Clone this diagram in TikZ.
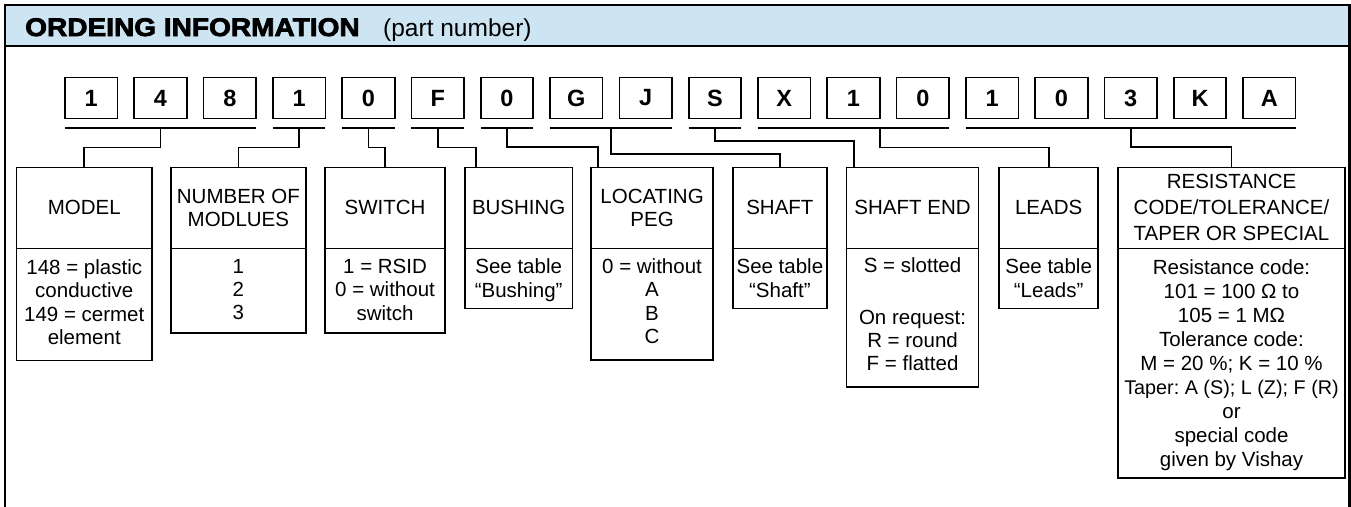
\documentclass[tikz,border=0pt]{standalone}
\usepackage{fontspec}
\setmainfont{Liberation Sans}
\newfontfamily\heavyfont[FakeBold=3,FakeStretch=1.1]{Liberation Sans Bold}
\usetikzlibrary{calc}
\definecolor{hdrblue}{RGB}{205,228,243}
\frenchspacing
\begin{document}
\begin{tikzpicture}[x=1pt,y=-1pt,
  digit/.style={draw, line width=1.7pt, outer sep=0pt, minimum width=52.5pt, minimum height=41pt, inner sep=0pt, font=\fontsize{23.5}{26}\selectfont\bfseries},
  headbox/.style={draw, line width=1.7pt, outer sep=0pt, minimum height=81pt, inner sep=0pt, align=center, font=\fontsize{20.5}{23.3}\selectfont\frenchspacing, anchor=north west},
  bodybox/.style={draw, line width=1.7pt, outer sep=0pt, inner sep=0pt, anchor=north west},
  bodytext/.style={anchor=north, inner sep=0pt, align=center, font=\fontsize{20.5}{23.3}\selectfont\frenchspacing},
  wire/.style={line width=1.7pt},
]
\useasboundingbox (0,0) rectangle (1351,506);
% frame and header band
\fill[hdrblue] (5,5) rectangle (1349.5,46.2);
\draw[line width=2.2pt] (5,530) -- (5,5) -- (1349.5,5) -- (1349.5,530);
\draw[line width=2.2pt] (5,46.2) -- (1349.5,46.2);
\node[anchor=base west, inner sep=0pt, font=\heavyfont\fontsize{25.5}{27}\selectfont] (title) at (25,36) {ORDEING INFORMATION};
\node[anchor=base west, inner sep=0pt, font=\fontsize{24.5}{26}\selectfont] (pn) at (383,36) {(part number)};
% part number digits
\foreach \c [count=\i] in {1,4,8,1,0,F,0,G,J,S,X,1,0,1,0,3,K,A}
  \node[digit] (d\i) at ({91.2+69.3*(\i-1)},98) {\c};
% description boxes
\node[headbox, minimum width=135.5pt] (hmodel) at (16.5,167.4) {MODEL};
\node[bodybox, minimum width=135.5pt, minimum height=112pt] (bmodel) at (hmodel.south west) {};
\node[bodytext] (tmodel) at ($(bmodel.north)+(0,11)$) {148 = plastic\\conductive\\149 = cermet\\element};

\node[headbox, minimum width=135.2pt] (hnum) at (170.8,167.4) {NUMBER OF\\MODLUES};
\node[bodybox, minimum width=135.2pt, minimum height=84.3pt] (bnum) at (hnum.south west) {};
\node[bodytext] (tnum) at ($(bnum.north)+(0,10.5)$) {1\\2\\3};

\node[headbox, minimum width=120.5pt] (hsw) at (324.8,167.4) {SWITCH};
\node[bodybox, minimum width=120.5pt, minimum height=84.3pt] (bsw) at (hsw.south west) {};
\node[bodytext] (tsw) at ($(bsw.north)+(0,10.5)$) {1 = RSID\\0 = without\\switch};

\node[headbox, minimum width=107.8pt] (hbush) at (464.8,167.4) {BUSHING};
\node[bodybox, minimum width=107.8pt, minimum height=60pt] (bbush) at (hbush.south west) {};
\node[bodytext] (tbush) at ($(bbush.north)+(0,10.5)$) {See table\\“Bushing”};

\node[headbox, minimum width=122.5pt] (hlp) at (590.8,167.4) {LOCATING\\PEG};
\node[bodybox, minimum width=122.5pt, minimum height=111.7pt] (blp) at (hlp.south west) {};
\node[bodytext] (tlp) at ($(blp.north)+(0,10)$) {0 = without\\A\\B\\C};

\node[headbox, minimum width=94.2pt] (hshaft) at (732.8,167.4) {SHAFT};
\node[bodybox, minimum width=94.2pt, minimum height=60pt] (bshaft) at (hshaft.south west) {};
\node[bodytext] (tshaft) at ($(bshaft.north)+(0,10.5)$) {See table\\“Shaft”};

\node[headbox, minimum width=132.1pt] (hse) at (846.5,167.4) {SHAFT END};
\node[bodybox, minimum width=132.1pt, minimum height=138.7pt] (bse) at (hse.south west) {};
\node[bodytext] (tse) at ($(bse.north)+(0,9.5)$) {S = slotted\\[28pt]On request:\\R = round\\F = flatted};

\node[headbox, minimum width=99.3pt] (hleads) at (999,167.4) {LEADS};
\node[bodybox, minimum width=99.3pt, minimum height=60pt] (bleads) at (hleads.south west) {};
\node[bodytext] (tleads) at ($(bleads.north)+(0,10.5)$) {See table\\“Leads”};

\node[headbox, minimum width=227pt, font=\fontsize{20.5}{26}\selectfont] (hres) at (1118,167.4) {RESISTANCE\\CODE/TOLERANCE/\\TAPER OR SPECIAL};
\node[bodybox, minimum width=227pt, minimum height=229.3pt] (bres) at (hres.south west) {};
\node[bodytext, font=\fontsize{20.5}{24}\selectfont\frenchspacing] (tres) at ($(bres.north)+(0,11)$) {Resistance code:\\101 = 100 Ω to\\105 = 1 MΩ\\Tolerance code:\\M = 20 \%; K = 10 \%\\{\fontsize{19.8}{24}\selectfont Taper: A (S); L (Z); F (R)}\\or\\special code\\given by Vishay};

% underlines
\draw[wire] ($(d1.south west)+(0,9.8)$) -- ($(d3.south east)+(0,9.8)$);
\draw[wire] ($(d4.south west)+(0,9.8)$) -- ($(d4.south east)+(0,9.8)$);
\draw[wire] ($(d5.south west)+(0,9.8)$) -- ($(d5.south east)+(0,9.8)$);
\draw[wire] ($(d6.south west)+(0,9.8)$) -- ($(d6.south east)+(0,9.8)$);
\draw[wire] ($(d7.south west)+(0,9.8)$) -- ($(d7.south east)+(0,9.8)$);
\draw[wire] ($(d8.south west)+(0,9.8)$) -- ($(d9.south east)+(0,9.8)$);
\draw[wire] ($(d10.south west)+(0,9.8)$) -- ($(d10.south east)+(0,9.8)$);
\draw[wire] ($(d11.south west)+(0,9.8)$) -- ($(d13.south east)+(0,9.8)$);
\draw[wire] ($(d14.south west)+(0,9.8)$) -- ($(d18.south east)+(0,9.8)$);
% start points on the underlines
\coordinate (g1) at ($(d1.south west)!0.5!(d3.south east)+(0,9.8)$);
\coordinate (g2) at ($(d4.south)+(0,9.8)$);
\coordinate (g3) at ($(d5.south)+(0,9.8)$);
\coordinate (g4) at ($(d6.south)+(0,9.8)$);
\coordinate (g5) at ($(d7.south)+(0,9.8)$);
\coordinate (g6) at ($(d8.south)!0.5!(d9.south)+(0,9.8)$);
\coordinate (g7) at ($(d10.south)+(0,9.8)$);
\coordinate (g8) at ($(d12.south east)+(0,9.8)$);
\coordinate (g9) at ($(d14.south west)!0.5!(d18.south east)+(0,9.8)$);
% connectors
\draw[wire] (g1) -- ++(0,19.2) -| (hmodel.north);
\draw[wire] (g2) -- ++(0,19.2) -| (hnum.north);
\draw[wire] (g3) -- ++(0,19.2) -| (hsw.north);
\draw[wire] (g4) -- ++(0,19.2) -| ($(hbush.north west)+(11.2,0)$);
\draw[wire] (g5) -- ++(0,19.0) -| ($(hlp.north west)+(7.5,0)$);
\draw[wire] (g6) -- ++(0,25.7) -| (hshaft.north);
\draw[wire] (g7) -- ++(0,12.7) -| ($(hse.north west)+(7.5,0)$);
\draw[wire] (g8) -- ++(0,19.2) -| (hleads.north);
\draw[wire] (g9) -- ++(0,19.0) -| (hres.north);
\end{tikzpicture}
\end{document}
